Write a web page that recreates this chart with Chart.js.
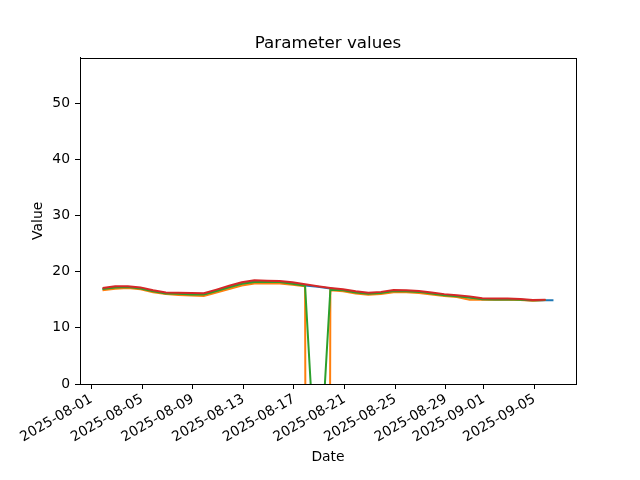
<!DOCTYPE html>
<html>
<head>
<meta charset="utf-8">
<script src="https://cdn.jsdelivr.net/npm/chart.js@4"></script>
<style>
  html, body { margin: 0; padding: 0; background: #fff; }
  #wrap { width: 640px; height: 480px; }
</style>
</head>
<body>
<div id="wrap"><canvas id="grafico" width="640" height="480"></canvas></div>
<script>
// fechas de las mediciones (la ultima solo existe en la serie azul)
const fechas = [
    '2025-08-01T21:00', '2025-08-02T21:00', '2025-08-03T21:00', '2025-08-04T21:00',
    '2025-08-05T21:00', '2025-08-06T21:00', '2025-08-07T21:00', '2025-08-08T21:00',
    '2025-08-09T21:00', '2025-08-10T21:00', '2025-08-11T21:00', '2025-08-12T21:00',
    '2025-08-13T21:00', '2025-08-14T21:00', '2025-08-15T21:00', '2025-08-16T21:00',
    '2025-08-17T21:00', '2025-08-18T21:00', '2025-08-19T21:00', '2025-08-20T21:00',
    '2025-08-21T21:00', '2025-08-22T21:00', '2025-08-23T21:00', '2025-08-24T21:00',
    '2025-08-25T21:00', '2025-08-26T21:00', '2025-08-27T21:00', '2025-08-28T21:00',
    '2025-08-29T21:00', '2025-08-30T21:00', '2025-08-31T21:00', '2025-09-01T21:00',
    '2025-09-02T21:00', '2025-09-03T21:00', '2025-09-04T21:00', '2025-09-05T21:00',
    '2025-09-06T12:00'
];

const serieAzul = [16.85, 17.15, 17.2, 17.0, 16.5, 16.1, 16.0, 15.95, 15.9, 16.55,
    17.25, 17.85, 18.2, 18.2, 18.15, 17.85, 17.55, 17.3, 17.0, 16.7,
    16.3, 16.05, 16.2, 16.55, 16.5, 16.35, 16.1, 15.8, 15.6, 15.4,
    15.1, 15.05, 15.05, 15.0, 14.85, 14.9, 14.9];
const serieNaranja = [16.7, 16.95, 17.1, 16.85, 16.35, 16.0, 15.85, 15.75, 15.65, 16.3,
    16.9, 17.55, 17.9, 17.95, 17.9, 17.65, 17.4, -800, 16.7, 16.5,
    16.1, 15.9, 16.0, 16.35, 16.35, 16.2, 15.95, 15.65, 15.5, 15.0,
    15.0, 15.0, 15.0, 14.95, 14.8, 14.95];
const serieVerde = [16.9, 17.2, 17.25, 17.0, 16.5, 16.1, 16.05, 15.95, 15.95, 16.55,
    17.2, 17.85, 18.15, 18.2, 18.15, 17.85, 17.5, -22, 16.8, 16.7,
    16.3, 16.05, 16.2, 16.55, 16.5, 16.4, 16.1, 15.8, 15.6, 15.4,
    15.1, 15.05, 15.1, 15.0, 14.9, 14.95];
const serieRoja = [17.1, 17.4, 17.4, 17.2, 16.7, 16.3, 16.25, 16.2, 16.15, 16.8,
    17.5, 18.1, 18.45, 18.4, 18.35, 18.1, 17.75, 17.4, 17.1, 16.85,
    16.5, 16.25, 16.4, 16.75, 16.7, 16.55, 16.3, 16.0, 15.8, 15.6,
    15.25, 15.2, 15.2, 15.15, 14.95, 15.0];

const etiquetasX = ['2025-08-01', '2025-08-05', '2025-08-09', '2025-08-13', '2025-08-17',
    '2025-08-21', '2025-08-25', '2025-08-29', '2025-09-01', '2025-09-05'];
const etiquetasY = [0, 10, 20, 30, 40, 50];

const aMs = s => Date.parse(s.length === 10 ? s + 'T00:00Z' : s + 'Z');
const puntos = valores => valores.map((v, i) => ({ x: aMs(fechas[i]), y: v }));

// margen del 5% como matplotlib
const t0 = aMs(fechas[0]);
const t1 = aMs(fechas[fechas.length - 1]);
const margen = (t1 - t0) * 0.05;

const fuente = "'DejaVu Sans', sans-serif";

// marco completo alrededor del area del grafico
const marco = {
    id: 'marco',
    afterDraw(chart) {
        const { ctx, chartArea: a } = chart;
        ctx.save();
        ctx.strokeStyle = '#000';
        ctx.lineWidth = 1;
        ctx.strokeRect(Math.round(a.left) + 0.5, Math.round(a.top) + 0.5,
            Math.round(a.right - a.left), Math.round(a.bottom - a.top));
        ctx.restore();
    }
};

const serie = (datos, color, orden) => ({
    data: puntos(datos),
    borderColor: color,
    backgroundColor: color,
    borderWidth: 2,
    pointRadius: 0,
    tension: 0,
    fill: false,
    order: orden
});

new Chart(document.getElementById('grafico'), {
    type: 'line',
    data: {
        datasets: [
            serie(serieAzul, '#1f77b4', 3),
            serie(serieNaranja, '#ff7f0e', 2),
            serie(serieVerde, '#2ca02c', 1),
            serie(serieRoja, '#d62728', 0)
        ]
    },
    options: {
        responsive: false,
        animation: false,
        events: [],
        layout: { padding: { left: 16, right: 0, top: 0, bottom: 0 } },
        plugins: {
            legend: { display: false },
            tooltip: { enabled: false },
            title: {
                display: true,
                text: 'Parameter values',
                color: '#000',
                font: { family: fuente, size: 16.7, weight: 'normal' },
                padding: { top: 33.6, bottom: 4 }
            }
        },
        scales: {
            x: {
                type: 'linear',
                min: t0 - margen,
                max: t1 + margen,
                afterBuildTicks: s => { s.ticks = etiquetasX.map(d => ({ value: aMs(d) })); },
                afterFit: s => { s.height = 96; },
                border: { display: true, color: '#000', width: 1 },
                grid: { drawOnChartArea: false, drawTicks: true, tickLength: 5, tickColor: '#000' },
                ticks: {
                    color: '#000',
                    font: { family: fuente, size: 13.9 },
                    padding: 2,
                    minRotation: 30,
                    maxRotation: 30,
                    autoSkip: false,
                    callback: v => new Date(v).toISOString().slice(0, 10)
                },
                title: {
                    display: true,
                    text: 'Date',
                    color: '#000',
                    font: { family: fuente, size: 13.9 },
                    padding: { top: 0, bottom: 14.7 }
                }
            },
            y: {
                min: 0,
                max: 58.1,
                afterBuildTicks: s => { s.ticks = etiquetasY.map(v => ({ value: v })); },
                afterFit: s => { s.width = 64; },
                border: { display: true, color: '#000', width: 1 },
                grid: { drawOnChartArea: false, drawTicks: true, tickLength: 5, tickColor: '#000' },
                ticks: {
                    color: '#000',
                    font: { family: fuente, size: 13.9 },
                    padding: 5
                },
                title: {
                    display: true,
                    text: 'Value',
                    color: '#000',
                    font: { family: fuente, size: 13.9 },
                    padding: { top: 14.2, bottom: 0 }
                }
            },
            // eje vacio a la derecha para dejar el hueco de matplotlib
            derecha: {
                type: 'linear',
                position: 'right',
                display: true,
                min: 0,
                max: 1,
                afterFit: s => { s.width = 64; },
                border: { display: false },
                grid: { display: false },
                ticks: { display: false }
            }
        }
    },
    plugins: [marco]
});
</script>
</body>
</html>
